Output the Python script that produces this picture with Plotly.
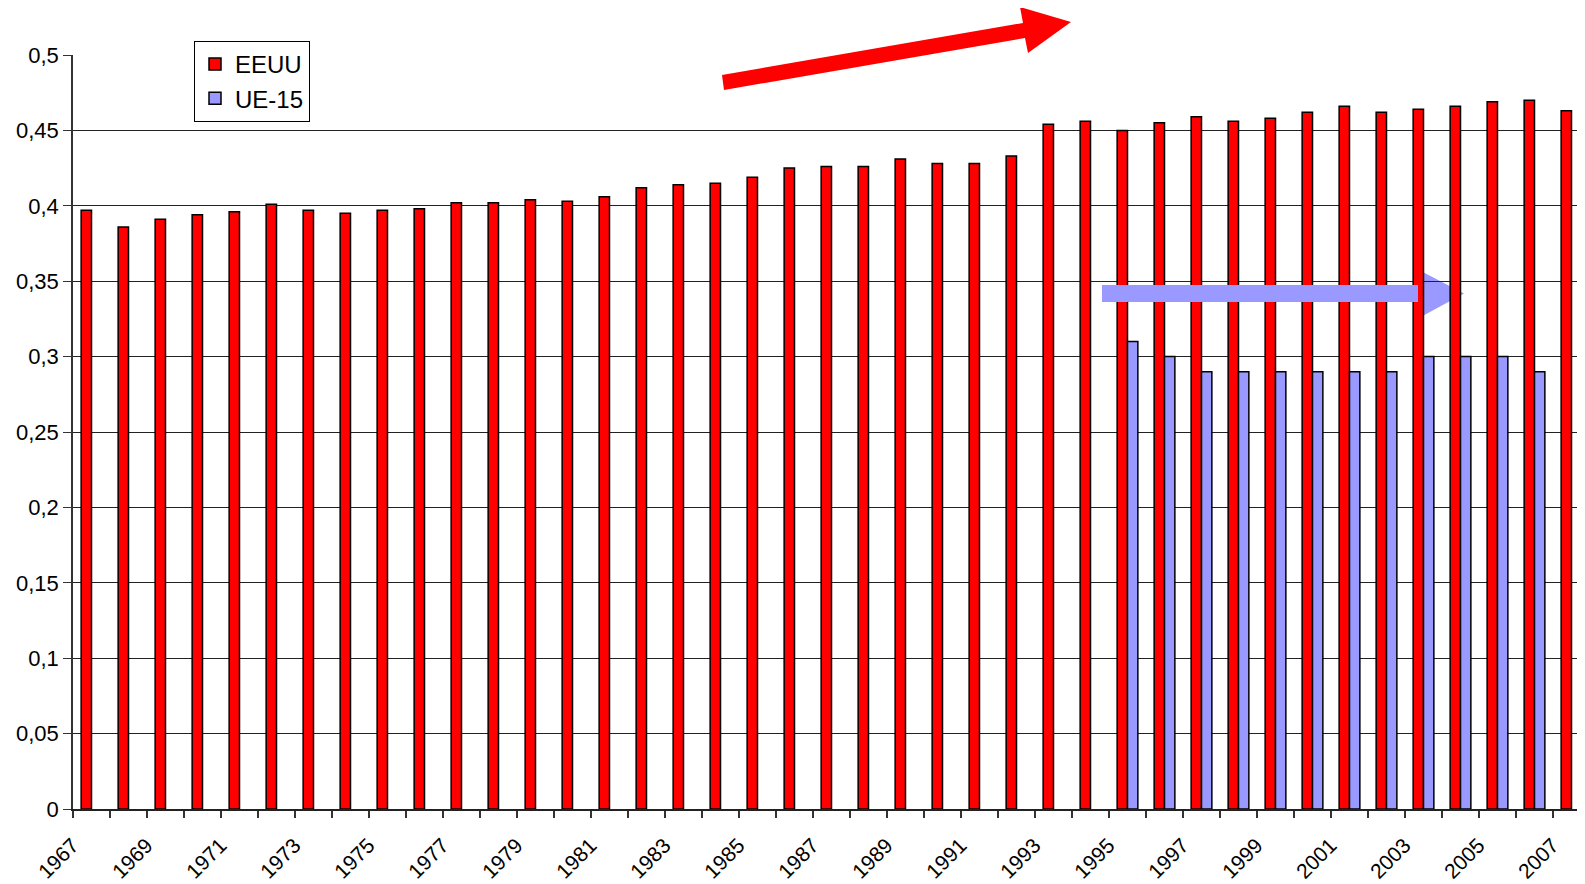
import plotly.graph_objects as go

years = list(range(1967, 2008))
eeuu = [0.397, 0.386, 0.391, 0.394, 0.396, 0.401, 0.397, 0.395, 0.397, 0.398,
        0.402, 0.402, 0.404, 0.403, 0.406, 0.412, 0.414, 0.415, 0.419, 0.425,
        0.426, 0.426, 0.431, 0.428, 0.428, 0.433, 0.454, 0.456, 0.450, 0.455,
        0.459, 0.456, 0.458, 0.462, 0.466, 0.462, 0.464, 0.466, 0.469, 0.470,
        0.463]
ue_years = list(range(1995, 2007))
ue15 = [0.31, 0.30, 0.29, 0.29, 0.29, 0.29, 0.29, 0.29, 0.30, 0.30, 0.30, 0.29]

y_ticks = [0, 0.05, 0.1, 0.15, 0.2, 0.25, 0.3, 0.35, 0.4, 0.45, 0.5]
y_text = ["0", "0,05", "0,1", "0,15", "0,2", "0,25", "0,3", "0,35", "0,4", "0,45", "0,5"]

# the page body has an 8px margin, so the figure is drawn 8px smaller
OFF = 8
W, H = 1585 - OFF, 884 - OFF
L, T = 73 - OFF, 55 - OFF
B = H - (809 - OFF)
PW, PH = W - L, H - T - B
FONT = "Liberation Sans, Arial, sans-serif"


def px_path(points):
    # screen pixel coords -> paper coords path
    pts = [((x - OFF - L) / PW, (H - B - (y - OFF)) / PH) for x, y in points]
    return "M " + " L ".join(f"{x:.5f},{y:.5f}" for x, y in pts) + " Z"


fig = go.Figure()
fig.add_trace(go.Bar(x=years, y=eeuu, name="EEUU", marker_color="#FF0000",
                     marker_line=dict(color="black", width=1.5)))
fig.add_trace(go.Bar(x=ue_years, y=ue15, name="UE-15", marker_color="#9999FF",
                     marker_line=dict(color="black", width=1.5)))

red_arrow = [(722, 75), (1023, 23), (1020, 7), (1071, 22), (1028, 53), (1025, 38), (724, 90)]
blue_shaft = [(1102, 285), (1418, 285), (1418, 302), (1102, 302)]
blue_head = [(1417, 269), (1464, 293.5), (1417, 319)]

fig.add_shape(type="path", xref="paper", yref="paper", path=px_path(red_arrow),
              fillcolor="#FF0000", line_width=0, layer="above")
fig.add_shape(type="path", xref="paper", yref="paper", path=px_path(blue_shaft),
              fillcolor="#9999FF", line_width=0, layer="above")
fig.add_shape(type="path", xref="paper", yref="paper", path=px_path(blue_head),
              fillcolor="#9999FF", line_width=0, layer="below")

fig.update_layout(
    width=W, height=H,
    margin=dict(l=L, r=0, t=T, b=B, autoexpand=False),
    paper_bgcolor="white", plot_bgcolor="white",
    barmode="group", bargap=0.44, bargroupgap=0,
    font=dict(family=FONT, size=21, color="black"),
    showlegend=True,
    legend=dict(x=(194 - 73) / PW, y=1 + (55 - 41) / PH, xanchor="left", yanchor="top",
                bordercolor="black", borderwidth=1, bgcolor="white",
                font=dict(size=24), tracegroupgap=0, itemwidth=30),
)
fig.update_xaxes(
    range=[1966.5, 1966.5 + PW / 37.0], automargin=False,
    tickmode="linear", tick0=1967, dtick=2, ticks="", tickangle=-45,
    tickfont=dict(size=21), ticklabelstandoff=14, ticklabelshift=-19,
    minor=dict(tickmode="linear", tick0=1966.5, dtick=1, ticks="outside",
               ticklen=7, tickcolor="#333", tickwidth=1.5, showgrid=False),
    showline=True, linecolor="#222", linewidth=1.5, showgrid=False, zeroline=False,
)
fig.update_yaxes(
    range=[0, 0.5], tickvals=y_ticks, ticktext=y_text, automargin=False,
    ticks="outside", ticklen=8, tickcolor="#333",
    showline=True, linecolor="#333", linewidth=1.5,
    showgrid=True, gridcolor="#222", gridwidth=1, zeroline=False,
    tickfont=dict(size=22),
)

fig.write_html("out.html")
